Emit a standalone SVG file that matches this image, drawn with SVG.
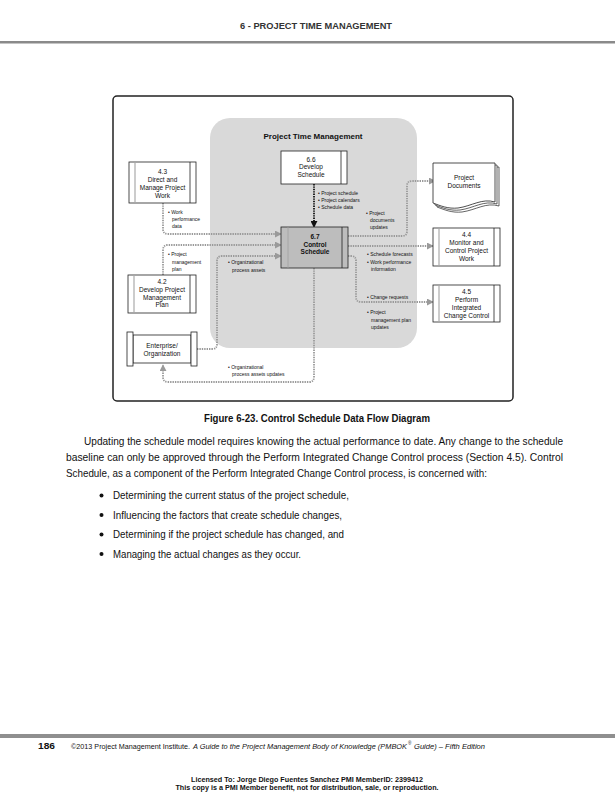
<svg xmlns="http://www.w3.org/2000/svg" width="615" height="800" viewBox="0 0 615 800">
<defs>
<style>
.t{font-family:"Liberation Sans",Arial,sans-serif;fill:#111}
.n{font-size:6.5px;text-anchor:middle}
.nb{font-size:6.5px;text-anchor:middle;font-weight:bold}
.l{font-size:5px}
.box{fill:#fff;stroke:#222;stroke-width:0.8}
.bar{stroke:#222;stroke-width:0.8}
.gbar{stroke:#aaa;stroke-width:1.2}
.c{fill:none;stroke:#9a9a9a;stroke-width:1.8;stroke-dasharray:1.4 1}
.p{font-size:11px}
</style>
<marker id="ag" viewBox="0 0 8 8" refX="7" refY="4" markerWidth="7" markerHeight="7" markerUnits="userSpaceOnUse" orient="auto"><path d="M0,0 L8,4 L0,8 Z" fill="#9a9a9a"/></marker>
<marker id="ab" viewBox="0 0 8 8" refX="7" refY="4" markerWidth="7" markerHeight="7" markerUnits="userSpaceOnUse" orient="auto"><path d="M0,0 L8,4 L0,8 Z" fill="#111"/></marker>
</defs>
<rect width="615" height="800" fill="#fff"/>
<!-- header -->
<text class="t" x="240" y="29" font-size="9.5" font-weight="bold" style="fill:#333" textLength="152" lengthAdjust="spacingAndGlyphs">6 - PROJECT TIME MANAGEMENT</text>
<rect x="0" y="41" width="615" height="2.5" fill="#8a8a8a"/>
<!-- frame -->
<rect x="113" y="96" width="400" height="305" rx="4" fill="#fff" stroke="#222" stroke-width="1.5"/>
<!-- project time management area -->
<g id="ptm">
<rect x="210" y="118" width="207" height="230" rx="20" fill="#d9d9d9"/>
<text class="t" x="313" y="139" font-size="8" font-weight="bold" text-anchor="middle">Project Time Management</text>
</g>
<g id="connectors">
<path class="c" d="M163,203 V229 Q163,234 168,234 H281" marker-end="url(#ag)"/>
<path class="c" d="M163,275 V250 Q163,245 168,245 H281" marker-end="url(#ag)"/>
<path class="c" d="M197,349 H212 Q217,349 217,344 V261 Q217,256 222,256 H281" marker-end="url(#ag)"/>
<path d="M314,184 V227" fill="none" stroke="#111" stroke-width="1.8" stroke-dasharray="1.4 1" marker-end="url(#ab)"/>
<path class="c" d="M348,236 H402 Q407,236 407,231 V186 Q407,181 412,181 H435" marker-end="url(#ag)"/>
<path class="c" d="M348,246 H433" marker-end="url(#ag)"/>
<path class="c" d="M348,256 H351 Q356,256 356,261 V297 Q356,302 361,302 H433" marker-end="url(#ag)"/>
<path class="c" d="M314,268 V377 Q314,382 309,382 H168 Q163,382 163,377 V365" marker-end="url(#ag)"/>
</g>
<!-- connector labels -->
<g id="labels">
<text class="t l" x="168" y="214">• Work</text>
<text class="t l" x="172" y="221">performance</text>
<text class="t l" x="172" y="228">data</text>
<text class="t l" x="168" y="256">• Project</text>
<text class="t l" x="172" y="263.5">management</text>
<text class="t l" x="172" y="271">plan</text>
<text class="t l" x="228" y="264">• Organizational</text>
<text class="t l" x="232" y="271.5">process assets</text>
<text class="t l" x="318" y="195">• Project schedule</text>
<text class="t l" x="318" y="202">• Project calendars</text>
<text class="t l" x="318" y="209">• Schedule data</text>
<text class="t l" x="366" y="215">• Project</text>
<text class="t l" x="370" y="222">documents</text>
<text class="t l" x="370" y="229">updates</text>
<text class="t l" x="367" y="256">• Schedule forecasts</text>
<text class="t l" x="367" y="263.5">• Work performance</text>
<text class="t l" x="371" y="271">information</text>
<text class="t l" x="367" y="299">• Change requests</text>
<text class="t l" x="367" y="314">• Project</text>
<text class="t l" x="371" y="321.5">management plan</text>
<text class="t l" x="371" y="329">updates</text>
<text class="t l" x="228" y="369">• Organizational</text>
<text class="t l" x="232" y="376">process assets updates</text>
</g>
<!-- nodes -->
<g id="n66">
<rect class="box" x="281" y="151" width="66" height="33"/>
<line class="bar" x1="341" y1="151" x2="341" y2="184"/>
<text class="t n" x="311" y="161.5">6.6</text>
<text class="t n" x="311" y="169">Develop</text>
<text class="t n" x="311" y="176.5">Schedule</text>
</g>
<g id="n67">
<rect x="281" y="227" width="67" height="41" fill="#bdbdbd" stroke="#222" stroke-width="0.8"/>
<line class="gbar" x1="288" y1="227.5" x2="288" y2="267.5"/>
<line class="bar" x1="342" y1="227" x2="342" y2="268"/>
<text class="t nb" x="315" y="239">6.7</text>
<text class="t nb" x="315" y="246.5">Control</text>
<text class="t nb" x="315" y="254">Schedule</text>
</g>
<g id="n43">
<rect class="box" x="129" y="162" width="67" height="41"/>
<line class="gbar" x1="135" y1="162.5" x2="135" y2="202.5"/>
<line class="bar" x1="190" y1="162" x2="190" y2="203"/>
<text class="t n" x="162.5" y="173.5">4.3</text>
<text class="t n" x="162.5" y="181.5">Direct and</text>
<text class="t n" x="162.5" y="189.5">Manage Project</text>
<text class="t n" x="162.5" y="197.5">Work</text>
</g>
<g id="n42">
<rect class="box" x="128" y="275" width="68" height="38"/>
<line class="gbar" x1="134" y1="275.5" x2="134" y2="312.5"/>
<line class="bar" x1="190" y1="275" x2="190" y2="313"/>
<text class="t n" x="162" y="283.5">4.2</text>
<text class="t n" x="162" y="292">Develop Project</text>
<text class="t n" x="162" y="299.5">Management</text>
<text class="t n" x="162" y="307">Plan</text>
</g>
<g id="ent">
<rect class="box" x="133" y="335" width="58" height="28"/>
<rect class="box" x="127" y="332" width="6" height="34"/>
<rect class="box" x="191" y="332" width="6" height="34"/>
<text class="t n" x="162" y="348">Enterprise/</text>
<text class="t n" x="162" y="355.5">Organization</text>
</g>
<g id="docs">
<path d="M437,167 H499 V206 C486,202 476,210 462,212 C452,213 445,210 437,207 Z" fill="#fff" stroke="#222" stroke-width="0.7"/>
<path d="M435,165 H497 V204 C484,200 474,208 460,210 C450,211 443,208 435,205 Z" fill="#fff" stroke="#222" stroke-width="0.7"/>
<path d="M433,163 H495 V202 C482,198 472,206 458,208 C448,209 441,206 433,203 Z" fill="#fff" stroke="#222" stroke-width="0.8"/>
<text class="t n" x="464" y="180">Project</text>
<text class="t n" x="464" y="188">Documents</text>
</g>
<g id="n44">
<rect class="box" x="433" y="228" width="67" height="38"/>
<line class="gbar" x1="439" y1="228.5" x2="439" y2="265.5"/>
<line class="bar" x1="494" y1="228" x2="494" y2="266"/>
<text class="t n" x="466.5" y="237">4.4</text>
<text class="t n" x="466.5" y="245">Monitor and</text>
<text class="t n" x="466.5" y="253">Control Project</text>
<text class="t n" x="466.5" y="261">Work</text>
</g>
<g id="n45">
<rect class="box" x="433" y="285" width="67" height="37"/>
<line class="gbar" x1="439" y1="285.5" x2="439" y2="321.5"/>
<line class="bar" x1="494" y1="285" x2="494" y2="322"/>
<text class="t n" x="466.5" y="294">4.5</text>
<text class="t n" x="466.5" y="302">Perform</text>
<text class="t n" x="466.5" y="310">Integrated</text>
<text class="t n" x="466.5" y="318">Change Control</text>
</g>
<!-- caption and body -->
<text class="t" x="204" y="422" font-size="11" font-weight="bold" textLength="226" lengthAdjust="spacingAndGlyphs">Figure 6-23. Control Schedule Data Flow Diagram</text>
<text class="t p" x="84" y="445" textLength="479" lengthAdjust="spacingAndGlyphs">Updating the schedule model requires knowing the actual performance to date. Any change to the schedule</text>
<text class="t p" x="66" y="461" textLength="497" lengthAdjust="spacingAndGlyphs">baseline can only be approved through the Perform Integrated Change Control process (Section 4.5). Control</text>
<text class="t p" x="66" y="477" textLength="421" lengthAdjust="spacingAndGlyphs">Schedule, as a component of the Perform Integrated Change Control process, is concerned with:</text>
<g id="bullets">
<circle cx="101.5" cy="495.5" r="2" fill="#111"/>
<text class="t p" x="113" y="499" textLength="236" lengthAdjust="spacingAndGlyphs">Determining the current status of the project schedule,</text>
<circle cx="101.5" cy="515" r="2" fill="#111"/>
<text class="t p" x="113" y="519" textLength="229" lengthAdjust="spacingAndGlyphs">Influencing the factors that create schedule changes,</text>
<circle cx="101.5" cy="534.5" r="2" fill="#111"/>
<text class="t p" x="113" y="538" textLength="231" lengthAdjust="spacingAndGlyphs">Determining if the project schedule has changed, and</text>
<circle cx="101.5" cy="554" r="2" fill="#111"/>
<text class="t p" x="113" y="558" textLength="188" lengthAdjust="spacingAndGlyphs">Managing the actual changes as they occur.</text>
</g>
<!-- footer -->
<rect x="0" y="734" width="615" height="4" fill="#8f8f8f"/>
<text class="t" x="38" y="749" font-size="9" font-weight="bold" textLength="17" lengthAdjust="spacingAndGlyphs">186</text>
<text class="t" x="71" y="749" font-size="7" textLength="119" lengthAdjust="spacingAndGlyphs">©2013 Project Management Institute.</text>
<text class="t" x="193" y="749" font-size="7" font-style="italic" textLength="214" lengthAdjust="spacingAndGlyphs">A Guide to the Project Management Body of Knowledge (PMBOK</text>
<text class="t" x="408" y="745" font-size="4.5" font-style="italic">®</text>
<text class="t" x="414" y="749" font-size="7" font-style="italic" textLength="71" lengthAdjust="spacingAndGlyphs">Guide) – Fifth Edition</text>
<text class="t" x="307" y="782" font-size="7.2" font-weight="bold" text-anchor="middle">Licensed To: Jorge Diego Fuentes Sanchez PMI MemberID: 2399412</text>
<text class="t" x="307" y="790" font-size="7.2" font-weight="bold" text-anchor="middle">This copy is a PMI Member benefit, not for distribution, sale, or reproduction.</text>
</svg>
